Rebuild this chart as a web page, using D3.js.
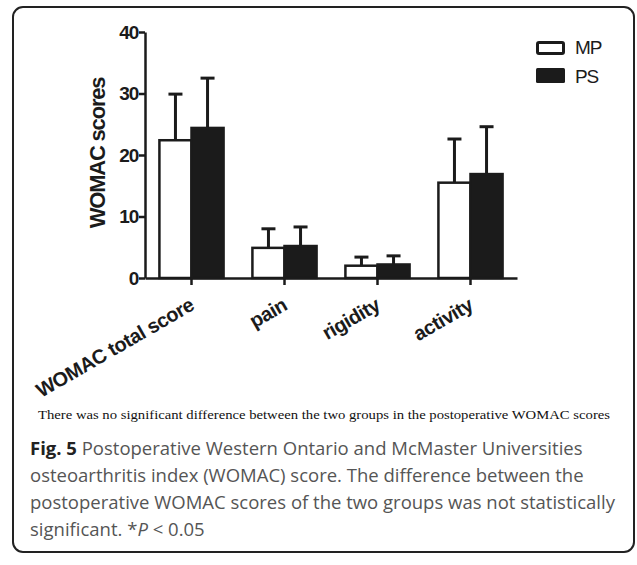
<!DOCTYPE html>
<html>
<head>
<meta charset="utf-8">
<script src="https://cdn.jsdelivr.net/npm/d3@7"></script>
<style>
  body { margin: 0; background: #fff; }
  svg { display: block; }
</style>
</head>
<body>
<div class="container"></div>
<script>
// chart data
const categories = ['WOMAC total score', 'pain', 'rigidity', 'activity'];
const groups = ['MP', 'PS'];
const mpMean = [22.4, 4.9, 2.0, 15.5];
const mpSD = [7.5, 3.1, 1.4, 7.1];
const psMean = [24.4, 5.2, 2.2, 16.9];
const psSD = [8.1, 3.1, 1.4, 7.7];
const yTicks = [0, 10, 20, 30, 40];

const w = 637;
const h = 565;

const svg = d3.select('.container').append('svg')
  .attr('width', w)
  .attr('height', h);

// rounded frame around figure
svg.append('rect')
  .attr('x', 13).attr('y', 7)
  .attr('width', 621).attr('height', 545)
  .attr('rx', 10)
  .attr('fill', 'none')
  .attr('stroke', '#222')
  .attr('stroke-width', 2);

// scales
const xScale = d3.scaleBand()
  .domain(categories)
  .range([145, 517])
  .paddingInner(0.31)
  .paddingOuter(0.155);
const subScale = d3.scaleBand()
  .domain(groups)
  .range([0, xScale.bandwidth()]);
const yScale = d3.scaleLinear()
  .domain([0, 40])
  .range([278, 32]);

// rows for bars
const rows = [];
categories.forEach((c, i) => {
  rows.push({ cat: c, group: 'MP', mean: mpMean[i], sd: mpSD[i] });
  rows.push({ cat: c, group: 'PS', mean: psMean[i], sd: psSD[i] });
});
const fill = g => g === 'MP' ? '#fff' : '#1b1b1b';
const cx = d => xScale(d.cat) + subScale(d.group) + subScale.bandwidth() / 2;

// error bars (upper only)
const err = svg.append('g').attr('stroke', '#1b1b1b').attr('stroke-width', 3);
err.selectAll('line.v').data(rows).enter().append('line')
  .attr('class', 'v')
  .attr('x1', cx).attr('x2', cx)
  .attr('y1', d => yScale(d.mean))
  .attr('y2', d => yScale(d.mean + d.sd));
err.selectAll('line.cap').data(rows).enter().append('line')
  .attr('class', 'cap')
  .attr('x1', d => cx(d) - 7).attr('x2', d => cx(d) + 7)
  .attr('y1', d => yScale(d.mean + d.sd))
  .attr('y2', d => yScale(d.mean + d.sd));

// bars
svg.append('g').selectAll('rect').data(rows).enter().append('rect')
  .attr('x', d => xScale(d.cat) + subScale(d.group))
  .attr('y', d => yScale(d.mean))
  .attr('width', subScale.bandwidth())
  .attr('height', d => yScale(0) - yScale(d.mean))
  .attr('fill', d => fill(d.group))
  .attr('stroke', '#1b1b1b')
  .attr('stroke-width', 2.5);

// axes
const yAxis = d3.axisLeft(yScale).tickValues(yTicks).tickSize(6).tickSizeOuter(0).tickPadding(1);
const gy = svg.append('g')
  .attr('transform', 'translate(145, 0)')
  .call(yAxis);
const xAxis = d3.axisBottom(xScale).tickSize(7).tickSizeOuter(0);
const gx = svg.append('g')
  .attr('transform', 'translate(0, 278)')
  .call(xAxis);
[gx, gy].forEach(g => {
  g.select('.domain').attr('stroke', '#1b1b1b').attr('stroke-width', 2.5);
  g.selectAll('.tick line').attr('stroke', '#1b1b1b').attr('stroke-width', 2.5);
  g.selectAll('text')
    .attr('fill', '#1b1b1b')
    .style('font-family', '"Liberation Sans", Arial, sans-serif')
    .style('font-weight', 'bold');
});
gy.selectAll('text').style('font-size', '19px').style('letter-spacing', '-1.2px');
gx.selectAll('text')
  .style('font-size', '20px')
  .style('letter-spacing', '-0.5px')
  .attr('text-anchor', 'end')
  .attr('x', 0).attr('y', 0).attr('dy', 0)
  .attr('transform', 'translate(4, 31) rotate(-30)');

// y axis title
svg.append('text')
  .attr('transform', 'translate(105, 153) rotate(-90)')
  .attr('text-anchor', 'middle')
  .style('font-family', '"Liberation Sans", Arial, sans-serif')
  .style('font-weight', 'bold')
  .style('font-size', '22px')
  .style('letter-spacing', '-1.2px')
  .attr('fill', '#1b1b1b')
  .text('WOMAC scores');

// legend
const legend = svg.append('g')
  .selectAll('g').data(groups).enter().append('g')
  .attr('transform', (d, i) => 'translate(536, ' + (41 + i * 27) + ')');
legend.append('rect')
  .attr('x', d => d === 'MP' ? 1.5 : 0)
  .attr('y', d => d === 'MP' ? 1.5 : 0)
  .attr('width', d => d === 'MP' ? 26 : 29)
  .attr('height', d => d === 'MP' ? 11 : 15)
  .attr('rx', 1.5)
  .attr('fill', d => fill(d))
  .attr('stroke', '#1b1b1b')
  .attr('stroke-width', d => d === 'MP' ? 3 : 0);
legend.append('text')
  .attr('x', 39)
  .attr('y', (d, i) => i === 0 ? 13 : 15)
  .style('font-family', '"Liberation Sans", Arial, sans-serif')
  .style('font-size', '19px')
  .style('letter-spacing', '-1.2px')
  .attr('fill', '#1b1b1b')
  .text(d => d);

// note under chart
svg.append('text')
  .attr('x', 38).attr('y', 419)
  .attr('textLength', 572)
  .attr('lengthAdjust', 'spacingAndGlyphs')
  .style('font-family', '"Liberation Serif", "Times New Roman", serif')
  .style('font-size', '13.5px')
  .attr('fill', '#111')
  .text('There was no significant difference between the two groups in the postoperative WOMAC scores');

// figure caption
const capLines = [
  [['Fig. 5', 'b'], [' Postoperative Western Ontario and McMaster Universities', '']],
  [['osteoarthritis index (WOMAC) score. The difference between the', '']],
  [['postoperative WOMAC scores of the two groups was not statistically', '']],
  [['significant. *', ''], ['P', 'i'], [' < 0.05', '']]
];
const cap = svg.append('g')
  .style('font-family', '"Open Sans", "Noto Sans", sans-serif')
  .style('font-size', '18.5px')
  .attr('fill', '#555');
capLines.forEach((line, i) => {
  const t = cap.append('text').attr('x', 30).attr('y', 455 + i * 27);
  line.forEach(part => {
    const s = t.append('tspan').text(part[0]);
    if (part[1] === 'b') s.style('font-weight', 'bold').attr('fill', '#222');
    if (part[1] === 'i') s.style('font-style', 'italic');
  });
});
</script>
</body>
</html>
